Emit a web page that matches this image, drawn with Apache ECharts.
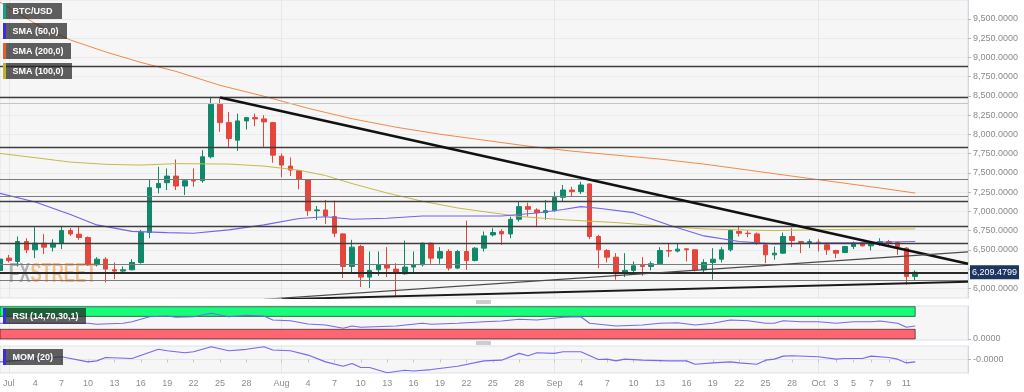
<!DOCTYPE html>
<html><head><meta charset="utf-8">
<script src="https://cdn.jsdelivr.net/npm/echarts@6/dist/echarts.min.js"></script>
<style>html,body{margin:0;padding:0;background:#fff}#c{width:1024px;height:392px}</style>
</head><body><div id="c"></div>
<script>
// ---- categories: daily, 30 Jun .. 18 Oct ----
const monthNames = ['Jan','Feb','Mar','Apr','May','Jun','Jul','Aug','Sep','Oct','Nov','Dec'];
const categories = [];
for (let k = 0; k < 111; k++) {
  const d = new Date(Date.UTC(2018, 5, 30 + k));
  categories.push(monthNames[d.getUTCMonth()] + ' ' + d.getUTCDate());
}
// ---- x tick labels ----
const xTickIndex = [1,4,7,10,13,16,19,22,25,28,32,35,38,41,44,47,50,53,56,59,63,66,69,72,75,78,81,84,87,90,93,95,97,99,101,103];
const xTickText  = ['Jul','4','7','10','13','16','19','22','25','28','Aug','4','7','10','13','16','19','22','25','28','Sep','4','7','10','13','16','19','22','25','28','Oct','3','5','7','9','11'];
const monthStartIndex = [1,32,63,93];
// ---- y tick labels ----
const yTickValues  = [6000,6250,6500,6750,7000,7250,7500,7750,8000,8250,8500,8750,9000,9250,9500];
const yLabelValues = [6000,6500,6750,7000,7250,7500,7750,8000,8250,8500,8750,9000,9250,9500];

// ---- BTC/USD candles [open, close, low, high] (30 Jun .. 12 Oct) ----
const ohlc = [
[6233,6381,6200,6410],
[6394,6363,6337,6436],[6350,6609,6285,6674],[6609,6501,6458,6652],[6501,6587,6393,6795],[6587,6536,6449,6704],
[6536,6587,6479,6639],[6587,6752,6510,6812],[6752,6708,6682,6782],[6704,6661,6631,6803],[6661,6307,6294,6674],
[6307,6380,6285,6406],[6380,6251,6078,6406],[6242,6225,6121,6337],[6225,6242,6208,6285],[6242,6337,6234,6380],
[6337,6726,6320,6760],[6726,7308,6652,7416],[7308,7364,7235,7580],[7373,7459,7278,7559],[7459,7330,7278,7675],
[7330,7399,7213,7416],[7405,7395,7321,7559],[7399,7710,7373,7796],[7710,8392,7688,8487],[8392,8154,8034,8465],
[8154,7947,7839,8293],[7926,8176,7787,8271],[8176,8219,8064,8228],[8219,8202,8107,8271],[8202,8163,7839,8250],
[8154,7731,7632,8163],
[7718,7602,7442,7753],[7589,7537,7459,7701],[7529,7416,7287,7537],[7408,7010,6941,7416],[7010,7020,6890,7071],
[7019,6941,6838,7149],[6933,6717,6665,7140],[6708,6285,6134,6717],[6285,6536,6208,6631],[6544,6147,6018,6566],
[6147,6233,6005,6479],[6242,6307,6164,6479],[6307,6264,6147,6536],[6251,6208,5905,6328],[6190,6277,6177,6622],
[6277,6307,6208,6479],[6307,6587,6285,6596],[6587,6393,6320,6596],[6393,6479,6320,6536],[6479,6264,6233,6510],
[6264,6479,6251,6501],[6479,6363,6242,6881],[6363,6523,6350,6536],[6523,6682,6479,6739],[6695,6726,6674,6782],
[6739,6708,6566,6769],[6708,6898,6652,6933],[6898,7062,6868,7127],[7062,7028,6933,7114],[7019,6984,6795,7041],
[6984,7010,6890,7149],
[7010,7183,6998,7256],[7183,7278,7127,7343],[7278,7257,7200,7321],[7257,7343,7226,7386],[7356,6674,6639,7364],
[6674,6501,6264,6695],[6492,6406,6337,6510],[6406,6190,6113,6458],[6199,6234,6147,6458],[6234,6294,6208,6350],
[6302,6285,6164,6406],[6285,6320,6234,6350],[6320,6493,6307,6536],[6493,6485,6406,6579],[6485,6510,6467,6579],
[6514,6501,6350,6523],[6501,6242,6220,6510],[6242,6337,6208,6380],[6337,6380,6113,6523],[6380,6501,6337,6536],
[6501,6752,6480,6769],[6739,6717,6674,6812],[6717,6712,6665,6752],[6708,6587,6566,6726],[6566,6436,6328,6587],
[6436,6458,6372,6544],[6458,6674,6449,6726],[6674,6622,6536,6782],[6609,6596,6458,6609],[6596,6609,6523,6639],
[6600,6587,6479,6639],[6566,6501,6436,6596],[6493,6458,6393,6501],[6467,6544,6458,6553],[6544,6587,6510,6609],
[6596,6553,6544,6609],[6553,6587,6493,6596],[6579,6609,6553,6652],[6609,6587,6553,6630],[6596,6544,6436,6609],
[6523,6156,6048,6536],[6156,6209.4799,6104,6234]
];
const lastPrice = 6209.4799;

// ---- moving averages: [category index, value] ----
const sma200 = [[0,9717],[4,9441],[8,9227],[12,9072],[16,8936],[20,8819],[25,8638],[30,8496],[35,8340],[40,8204],[45,8094],[50,8003],[55,7926],[60,7848],[65,7783],[70,7731],[75,7680],[80,7615],[85,7537],[90,7459],[95,7382],[100,7304],[104,7239]];
const sma100 = [[0,7753],[4,7698],[8,7641],[12,7612],[16,7602],[20,7621],[26,7615],[30,7589],[34,7535],[37,7466],[40,7362],[44,7239],[48,7132],[52,7045],[55,6997],[59,6935],[64,6892],[70,6855],[76,6803],[80,6773],[84,6760],[88,6751],[92,6760],[98,6769],[104,6773]];
const sma50 = [[0,7235],[4,7123],[8,6961],[11,6825],[15,6741],[19,6725],[22,6717],[26,6760],[30,6825],[34,6909],[37,6931],[40,6899],[44,6912],[48,6941],[52,6941],[57,6941],[61,6980],[64,7026],[66,7062],[68,7041],[72,6984],[76,6825],[80,6682],[84,6609],[88,6579],[93,6588],[98,6596],[104,6609]];

// ---- drawn levels and trend lines ----
const darkLevels = [8880,8486,7835,7133,6809,6588];
const greyLevels = [7417,7191,6320,6109];
const lightLevels = [8411];
const trendDown = [[25,8479],[110,6320]];
const trendUpThin = [[30,5858],[110,6475]];
const trendUpThick = [[32,5860],[110,6087]];

// ---- oscillators ----
const rsi = [[0,48.6],[10,48.6],[11,45.5],[14,48.6],[15,53.6],[17,69],[19,71.2],[20,67.2],[22,69],[24,79.6],[26,69],[28,73.4],[30,71.2],[31,58.8],[33,56.7],[35,46.4],[37,43.3],[39,33.1],[40,40.2],[41,36.2],[45,40.2],[48,48.6],[49,45.5],[52,48.6],[55,53.6],[57,55.7],[59,61],[61,58.8],[64,67.2],[66,69],[67,48.6],[70,40.2],[73,43.3],[75,48.6],[77,50.5],[79,43.3],[81,48.6],[83,58.8],[85,56.7],[87,48.6],[88,48.6],[89,56.7],[91,53.6],[93,53.6],[95,48.6],[97,53.6],[99,53.6],[100,55.7],[102,48.6],[103,36.2],[104,40.2]];
const rsiBands = [[70,100],[0,30]];
const mom = [[0,-247],[7,278],[10,-247],[11,-142],[12,215],[15,110],[18,1055],[19,908],[21,698],[22,803],[24,1328],[26,908],[28,1055],[30,1328],[31,982],[33,908],[35,457],[37,-247],[39,-698],[40,-415],[41,-835],[42,-835],[44,-1380],[46,-1118],[47,-1192],[49,-1045],[52,-698],[55,-142],[57,-68],[59,635],[60,383],[61,698],[63,635],[64,803],[66,803],[68,5],[69,37],[70,-142],[71,37],[73,-68],[76,-142],[78,-142],[79,-488],[81,-352],[83,-247],[84,-352],[86,-488],[87,-68],[88,37],[89,352],[90,383],[93,278],[95,37],[96,110],[98,110],[99,352],[101,215],[102,37],[103,-352],[104,-247]];

// ---- helpers ----
function fmt(v){ const p = Number(v).toFixed(4).split('.'); return p[0].replace(/\B(?=(\d{3})+$)/g, ',') + '.' + p[1]; }
const tickMap = {}; xTickIndex.forEach((i,k)=>{ tickMap[i] = xTickText[k]; });
const FONT = 'Arial, "Liberation Sans", sans-serif';
const UP = '#10896b', DOWN = '#e5453b';
const OSC = '#7468f4';
const lastIdx = ohlc.length - 1;

const chart = echarts.init(document.getElementById('c'), null, {renderer:'canvas'});
const gridBase = {left:0, right:56, show:true, backgroundColor:'#f6f6f6', borderColor:'#dde1e8', borderWidth:1};
const xAx = g => ({
  type:'category', gridIndex:g, data:categories, boundaryGap:false,
  axisLine:{show:false},
  axisTick:{show:g===2, interval:(i)=>tickMap[i]!==undefined, length:3, lineStyle:{color:'#c8c8c8'}},
  axisLabel:{show:g===2, interval:(i)=>tickMap[i]!==undefined, formatter:(v,i)=>tickMap[i]||'', color:'#8c8c8c', fontSize:9, fontFamily:FONT, margin:6},
  splitLine:{show:true, interval:(i)=>monthStartIndex.indexOf(i)>=0, lineStyle:{color:'#e3e6eb', width:1}}
});
const levelLines = [];
darkLevels.forEach(v=>levelLines.push({yAxis:v, lineStyle:{color:'#3e3e3e', width:1.3, type:'solid'}}));
greyLevels.forEach(v=>levelLines.push({yAxis:v, lineStyle:{color:'#7a7a7a', width:1.2, type:'solid'}}));
lightLevels.forEach(v=>levelLines.push({yAxis:v, lineStyle:{color:'#c4c4c4', width:1.2, type:'solid'}}));
levelLines.push({yAxis:lastPrice, lineStyle:{color:'#2a2a2a', width:2, type:'solid'},
  label:{show:true, position:'end', formatter:fmt(lastPrice), distance:2, color:'#fff', backgroundColor:'#1d3560', padding:[3,2,2,2], fontSize:9, fontFamily:FONT}});

const boxes = [
  {x:3,y:3,w:59,t:'BTC/USD',c:'#16a085'},
  {x:3,y:23,w:64,t:'SMA (50,0)',c:'#3a2bea'},
  {x:3,y:43,w:68,t:'SMA (200,0)',c:'#f05a24'},
  {x:3,y:63,w:69,t:'SMA (100,0)',c:'#c2b424'},
  {x:3,y:308,w:83,t:'RSI (14,70,30,1)',c:'#3a2bea'},
  {x:3,y:349,w:60,t:'MOM (20)',c:'#3a2bea'}
];
const graphics = [];
boxes.forEach(b=>{
  graphics.push({type:'rect', z:100, shape:{x:b.x,y:b.y,width:b.w,height:16}, style:{fill:'rgba(34,34,34,0.72)'}});
  graphics.push({type:'rect', z:101, shape:{x:b.x,y:b.y,width:3,height:16}, style:{fill:b.c}});
  graphics.push({type:'text', z:102, x:b.x+9.5, y:b.y+8.5, style:{text:b.t, fill:'#fff', font:'bold 9px '+FONT, verticalAlign:'middle', align:'left'}});
});
[[476,300.5],[476,302.5],[476,341.5],[476,343.5]].forEach(p=>{
  graphics.push({type:'rect', z:100, shape:{x:p[0],y:p[1],width:15,height:1}, style:{fill:'#9a9a9a'}});
});
graphics.push({type:'text', z:1, x:9, y:261, scaleX:0.62,
  style:{text:'{a|FX}{b|STREET}', rich:{a:{fill:'rgba(105,105,105,0.5)', fontSize:27, fontWeight:'bold', fontFamily:FONT}, b:{fill:'rgba(240,140,50,0.55)', fontSize:27, fontWeight:'bold', fontFamily:FONT}}, verticalAlign:'top'}});

const lineS = (data, color, width, z) => ({type:'line', xAxisIndex:0, yAxisIndex:0, data:data, showSymbol:false, connectNulls:true, silent:true, z:z||3,
  lineStyle:{color:color, width:width}});

chart.setOption({
  animation:false,
  backgroundColor:'#ffffff',
  grid:[
    Object.assign({top:0, height:298}, gridBase),
    Object.assign({top:306, height:34}, gridBase),
    Object.assign({top:346, height:27}, gridBase)
  ],
  xAxis:[xAx(0), xAx(1), xAx(2)],
  yAxis:[
    {type:'value', gridIndex:0, position:'right', min:5875.4, max:9746.6, scale:true,
      axisLine:{show:true, lineStyle:{color:'#d3d7de'}},
      axisTick:{show:true, length:3, customValues:yTickValues, lineStyle:{color:'#b8b8b8'}},
      axisLabel:{customValues:yLabelValues, formatter:fmt, color:'#8a8a8a', fontSize:9, fontFamily:FONT, margin:5},
      splitLine:{show:true, lineStyle:{color:'#ebebeb'}}},
    {type:'value', gridIndex:1, position:'right', min:-3.1, max:102.2,
      axisLine:{show:true, lineStyle:{color:'#d3d7de'}},
      axisTick:{show:true, length:3, customValues:[0], lineStyle:{color:'#b8b8b8'}},
      axisLabel:{customValues:[0], formatter:()=> '0.0000', color:'#8a8a8a', fontSize:9, fontFamily:FONT, margin:5},
      splitLine:{show:false}},
    {type:'value', gridIndex:2, position:'right', min:-1400, max:1400,
      axisLine:{show:true, lineStyle:{color:'#d3d7de'}},
      axisTick:{show:true, length:3, customValues:[0], lineStyle:{color:'#b8b8b8'}},
      axisLabel:{customValues:[0], formatter:()=> '-0.0000', color:'#8a8a8a', fontSize:9, fontFamily:FONT, margin:5},
      splitLine:{show:true, lineStyle:{color:'#e6e6e6'}}}
  ],
  graphic:graphics,
  series:[
    {type:'candlestick', name:'BTC/USD', xAxisIndex:0, yAxisIndex:0, data:ohlc, barWidth:5, z:2,
      itemStyle:{color:UP, color0:DOWN, borderColor:UP, borderColor0:DOWN, borderWidth:1},
      markLine:{silent:true, symbol:['none','none'], label:{show:false}, data:levelLines, z:4}},
    lineS(sma200, '#f6874a', 1),
    lineS(sma100, '#c5b84c', 1),
    lineS(sma50, '#7062f2', 1.1),
    lineS(trendDown, '#111111', 2.6, 5),
    lineS(trendUpThick, '#1a1a1a', 2, 5),
    lineS(trendUpThin, '#4a4a4a', 1.2, 5),
    {type:'line', xAxisIndex:1, yAxisIndex:1, data:[], z:1, silent:true,
      markArea:{silent:true, data:[
        [{xAxis:0, yAxis:rsiBands[0][0], itemStyle:{color:'#17fd79', borderColor:'rgba(0,0,0,0.55)', borderWidth:1}}, {xAxis:lastIdx, yAxis:rsiBands[0][1]}],
        [{xAxis:0, yAxis:rsiBands[1][0], itemStyle:{color:'#ff6570', borderColor:'rgba(0,0,0,0.55)', borderWidth:1}}, {xAxis:lastIdx, yAxis:rsiBands[1][1]}]
      ]}},
    {type:'line', xAxisIndex:1, yAxisIndex:1, data:rsi, showSymbol:false, connectNulls:true, silent:true, z:3, lineStyle:{color:OSC, width:1.1}},
    {type:'line', xAxisIndex:2, yAxisIndex:2, data:mom, showSymbol:false, connectNulls:true, silent:true, z:3, lineStyle:{color:OSC, width:1.1}}
  ]
});
</script>
</body></html>
